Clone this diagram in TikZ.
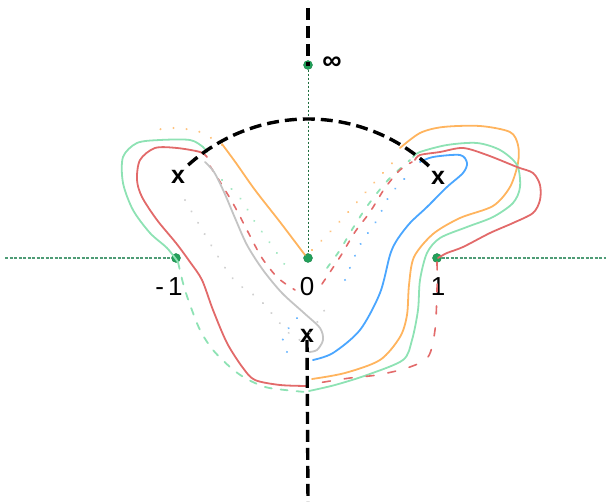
\documentclass[tikz,border=0pt]{standalone}
\usepackage{fontspec}
\setmainfont{Liberation Sans}
\definecolor{dotgreen}{HTML}{22A05A}
\definecolor{axisgreen}{HTML}{4E9C76}
\definecolor{vgreen}{HTML}{1E6E3E}
\definecolor{mint}{HTML}{8EE2B4}
\definecolor{cred}{HTML}{E26A6A}
\definecolor{corange}{HTML}{FFB45E}
\definecolor{cblue}{HTML}{4AA6FF}
\definecolor{cgray}{HTML}{C4C4C4}
\tikzset{
  pt/.style={circle,fill=dotgreen,draw=dotgreen!85!black,line width=0.4pt,inner sep=0pt,minimum size=9pt},
  lbl/.style={font=\fontsize{26}{28}\selectfont,inner sep=0pt},
  xmark/.style={font=\bfseries\fontsize{25}{27}\selectfont,inner sep=0pt},
  bigdash/.style={line width=3.4pt,dash pattern=on 12pt off 6pt},
  axisdash/.style={axisgreen,line width=1.2pt,dash pattern=on 3pt off 1.5pt},
  vdash/.style={vgreen,line width=0.7pt,dash pattern=on 2.5pt off 1.5pt},
  curve/.style={line width=1.8pt,line join=round,line cap=round},
  dcurve/.style={line width=1.8pt,line cap=round,dash pattern=on 7pt off 9pt},
  dots/.style={line width=2.2pt,line cap=round,dash pattern=on 0.1pt off 13pt,opacity=0.8},
}
\begin{document}
\begin{tikzpicture}[x=1pt,y=-1pt]
\useasboundingbox (0,0) rectangle (606,502);
% points
\node[pt] (inf) at (308,65) {};
\node[pt] (zero) at (308,258) {};
\node[pt] (m1) at (176,258) {};
\node[pt] (p1) at (437,258) {};
\coordinate (topend) at (308,8);
\coordinate (botend) at (308,502);
\coordinate (lend) at (5,258);
\coordinate (rend) at (606,258);
% axes
\draw[axisdash] (lend) -- (m1.west);
\draw[axisdash] (p1.east) -- (rend);
\draw[vdash] (inf.south) -- (zero.north);
% labels
\node[lbl] (lm1) at (169,287) {-\,1};
\node[lbl] (l0) at (307,287) {0};
\node[lbl] (l1) at (438,287) {1};
\node[lbl,font=\bfseries\fontsize{27}{28}\selectfont] (linf) at (332,63) {∞};
\node[xmark] (xl) at (178,177) {x};
\node[xmark] (xr) at (438,178) {x};
\node[xmark] (xb) at (307,336) {x};
% dotted V's
\draw[dots,corange] plot[smooth] coordinates {(222,145) (200,132) (175,128) (155,130)};
\draw[dots,corange] plot[smooth] coordinates {(312,250) (330,232) (350,210) (372,185) (395,160)};
\draw[dots,cblue] plot[smooth] coordinates {(345,280) (360,245) (377,220) (390,195) (413,170)};
\draw[dots,cblue] plot[smooth] coordinates {(287,352) (283,337) (297,318)};
\draw[dots,mint] plot[smooth] coordinates {(222,180) (240,198) (255,222) (270,243) (285,265)};
\draw[dots,cgray] plot[smooth] coordinates {(185,200) (230,275) (260,300) (300,340) (330,300)};
\draw[line width=1.8pt,mint,dash pattern=on 5pt off 10pt,line cap=round] plot[smooth] coordinates {(327,268) (340,250) (353,228) (368,205) (388,180) (410,160)};
\draw[line width=1.6pt,cred,dash pattern=on 6pt off 9pt,line cap=round] plot[smooth] coordinates {(210,166) (222,185) (235,207) (248,232) (262,258) (278,278) (295,290)};
\draw[line width=1.6pt,cred,dash pattern=on 6pt off 9pt,line cap=round] plot[smooth] coordinates {(322,284) (340,257) (355,232) (370,212) (385,188) (400,170) (412,162)};
% gray
\draw[curve,cgray] plot[smooth] coordinates {(205,162) (214,172) (224,192) (235,218) (247,245) (263,270) (282,293) (304,313) (320,328) (323,340) (317,350) (309,352)};
% orange
\draw[curve,corange] plot[smooth] coordinates {(305,255) (280,222) (255,190) (236,163) (222,144)};
\draw[curve,corange] plot[smooth] coordinates {(400,148) (420,133) (443,127) (480,126) (510,132) (518,145) (518,163) (510,187) (493,206) (460,218) (433,234) (414,257) (409,285) (407,315) (400,337) (380,360) (345,373) (312,379)};
% green
\draw[curve,mint] plot[smooth] coordinates {(178,262) (167,248) (150,233) (133,210) (123,183) (123,157) (137,143) (160,140) (190,140) (203,147) (207,152)};
\draw[curve,mint] plot[smooth] coordinates {(413,157) (420,152) (447,145) (477,143) (500,150) (517,165) (520,187) (513,203) (493,217) (467,227) (440,238) (427,253) (420,280) (418,310) (412,340) (403,360) (367,375) (335,385) (309,391)};
\draw[dcurve,mint] plot[smooth] coordinates {(178,262) (183,283) (189,302) (200,330) (213,350) (230,367) (245,378) (265,387) (285,390) (305,392)};
% red
\draw[curve,cred] plot[smooth] coordinates {(207,157) (200,152) (177,148) (155,148) (140,160) (137,180) (142,197) (157,220) (176,243) (190,262) (202,280) (213,310) (227,343) (243,368) (255,380) (280,385) (307,386)};
\draw[curve,cred] plot[smooth] coordinates {(415,160) (420,155) (440,152) (463,148) (487,155) (517,167) (533,173) (540,185) (540,200) (533,213) (513,223) (490,233) (463,247) (447,253) (438,258)};
\draw[line width=1.6pt,cred,dash pattern=on 8pt off 14pt,line cap=round] plot[smooth] coordinates {(437,262) (437,290) (435,330) (428,357) (407,368) (377,375) (350,378) (318,383)};
% blue
\draw[curve,cblue] plot[smooth] coordinates {(420,162) (433,157) (460,155) (467,163) (463,173) (447,187) (427,207) (410,223) (397,240) (390,255) (380,293) (360,330) (333,353) (313,360)};
% black dashed
\draw[bigdash] (topend) -- ([yshift=-6pt]inf.north);
\draw[bigdash] ([yshift=3pt]xb.south) -- (botend);
\draw[bigdash] ([shift={(308,298)}]-132:179) arc[start angle=-132,end angle=-47,radius=179];
\end{tikzpicture}
\end{document}
